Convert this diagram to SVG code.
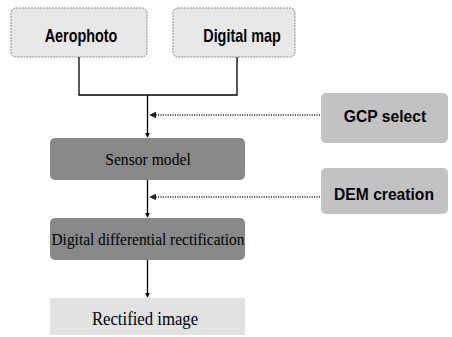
<svg xmlns="http://www.w3.org/2000/svg" width="452" height="337" viewBox="0 0 452 337">
<defs>
<marker id="ah" viewBox="0 0 10 10" refX="9" refY="5" markerWidth="5" markerHeight="5" orient="auto" markerUnits="userSpaceOnUse">
<path d="M0,0 L10,5 L0,10 z" fill="#000"/>
</marker>
<marker id="ahd" viewBox="0 0 10 10" refX="9" refY="5" markerWidth="7" markerHeight="7" orient="auto" markerUnits="userSpaceOnUse">
<path d="M0,0 L10,5 L0,10 z" fill="#222"/>
</marker>
</defs>
<style>
.light{fill:#e8e8e8;stroke:#8a8a8a;stroke-width:1;stroke-dasharray:2 1}
.dark{fill:#888888}
.mid{fill:#c2c2c2}
.pale{fill:#e2e2e2}
.sans{font-family:"Liberation Sans",Arial,sans-serif;font-weight:bold;text-anchor:middle;fill:#000}
.serif{font-family:"Liberation Serif","Times New Roman",serif;text-anchor:middle;fill:#000}
.solid{fill:none;stroke:#000;stroke-width:1.3}
.dot{fill:none;stroke:#333;stroke-width:1.6;stroke-dasharray:1.2 1.2}
</style>
<g id="aerophoto">
<rect class="light" x="11" y="8" width="136" height="49" rx="5"/>
<text class="sans" x="0" y="0" font-size="18" transform="translate(81 42) scale(0.8 1)">Aerophoto</text>
</g>
<g id="digital-map">
<rect class="light" x="173" y="8" width="122" height="49" rx="5"/>
<text class="sans" x="0" y="0" font-size="18" transform="translate(242 42) scale(0.8 1)">Digital map</text>
</g>
<g id="sensor-model">
<rect class="dark" x="50" y="138" width="195" height="42" rx="5"/>
<text class="serif" x="0" y="0" font-size="17" transform="translate(148 165) scale(0.92 1)">Sensor model</text>
</g>
<g id="digital-differential-rectification">
<rect class="dark" x="50" y="218" width="195" height="42" rx="5"/>
<text class="serif" x="148" y="245" font-size="17" textLength="193" lengthAdjust="spacingAndGlyphs">Digital differential rectification</text>
</g>
<g id="rectified-image">
<rect class="pale" x="50" y="298" width="195" height="37"/>
<text class="serif" x="0" y="0" font-size="19" transform="translate(145 325) scale(0.88 1)">Rectified image</text>
</g>
<g id="gcp-select">
<rect class="mid" x="321" y="93" width="127" height="50" rx="5"/>
<text class="sans" x="0" y="0" font-size="17" transform="translate(385 122) scale(0.92 1)">GCP select</text>
</g>
<g id="dem-creation">
<rect class="mid" x="321" y="168" width="127" height="46" rx="5"/>
<text class="sans" x="0" y="0" font-size="17" transform="translate(384 200) scale(0.92 1)">DEM creation</text>
</g>
<g id="connectors">
<polyline class="solid" points="79,57 79,95 237,95 237,57"/>
<line class="solid" x1="147.5" y1="95" x2="147.5" y2="137" stroke-width="2" marker-end="url(#ah)"/>
<line class="solid" x1="147.5" y1="180" x2="147.5" y2="217" stroke-width="2" marker-end="url(#ah)"/>
<line class="solid" x1="147.5" y1="260" x2="147.5" y2="297" stroke-width="2" marker-end="url(#ah)"/>
<line class="dot" x1="320" y1="115" x2="150" y2="115" marker-end="url(#ahd)"/>
<line class="dot" x1="320" y1="197" x2="150" y2="197" marker-end="url(#ahd)"/>
</g>
</svg>
